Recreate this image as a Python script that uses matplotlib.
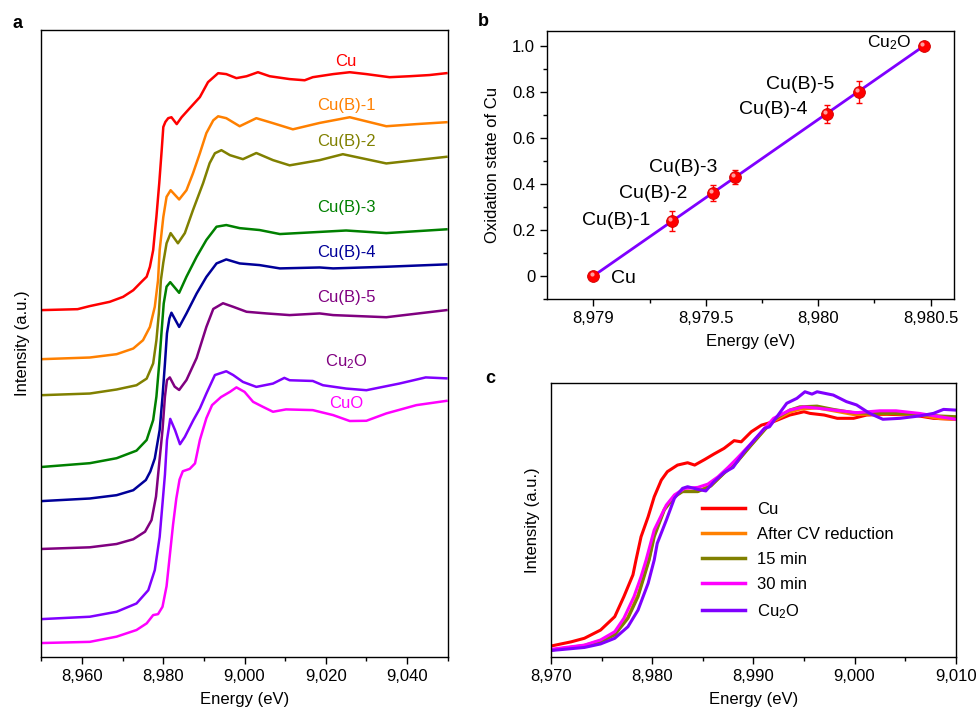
import numpy as np
import matplotlib
matplotlib.use('Agg')
import matplotlib.pyplot as plt
from matplotlib.ticker import MultipleLocator, FuncFormatter, NullLocator
from matplotlib import transforms

plt.rcParams['font.family'] = ['Liberation Sans', 'DejaVu Sans']
plt.rcParams['mathtext.default'] = 'regular'
plt.rcParams['font.size'] = 12

# ---------------- panel a: normalized XANES, stacked ----------------
cu_e = [8950, 8958.9, 8961.9, 8966.8, 8970.1, 8972.6, 8974.6, 8975.9, 8976.7, 8977.5, 8977.9,
        8978.3, 8979.0, 8979.6, 8980.0, 8980.5, 8981.2, 8982.0, 8983.3, 8984.5, 8986.5, 8989,
        8991, 8993.5, 8995.5, 8998, 9000.5, 9003.3, 9006.2, 9011.1, 9014.8, 9016.8, 9021.8,
        9025.9, 9030, 9035.7, 9040.6, 9045.5, 9049.7]
cu_mu = [0, 0.004, 0.017, 0.035, 0.056, 0.084, 0.119, 0.141, 0.183, 0.253, 0.325,
         0.394, 0.536, 0.675, 0.773, 0.794, 0.81, 0.814, 0.785, 0.814, 0.852, 0.899,
         0.962, 1.0, 0.996, 0.979, 0.987, 1.004, 0.987, 0.975, 0.970, 0.983, 0.996,
         1.004, 0.996, 0.983, 0.987, 0.992, 1.0]

b1_e = [8950, 8961.9, 8968.5, 8972.6, 8975.0, 8976.7, 8977.9, 8978.7, 8979.1, 8980.0, 8980.8,
        8981.8, 8983.9, 8985.7, 8987.3, 8989, 8990.6, 8992.3, 8993.5, 8995.5, 8998.8, 9002.9,
        9007, 9011.9, 9018.5, 9025.9, 9034.9, 9042.3, 9049.7]
b1_mu = [0, 0.007, 0.021, 0.045, 0.08, 0.136, 0.221, 0.333, 0.46, 0.60, 0.685,
         0.713, 0.674, 0.713, 0.784, 0.869, 0.954, 1.008, 1.025, 1.017, 0.983, 1.017,
         0.996, 0.97, 0.997, 1.021, 0.983, 0.992, 1.0]

b2_e = [8950, 8961.9, 8968.5, 8973.4, 8975.9, 8977.5, 8978.3, 8978.9, 8979.4, 8980.0, 8980.8,
        8981.8, 8983.6, 8985.3, 8987.3, 8989.8, 8991.4, 8992.7, 8994.3, 8996.4, 8999.6, 9002.9,
        9007, 9011.1, 9018.5, 9024.2, 9034.9, 9049.7]
b2_mu = [0, 0.007, 0.024, 0.042, 0.07, 0.134, 0.232, 0.345, 0.485, 0.56, 0.641,
         0.684, 0.641, 0.684, 0.781, 0.895, 0.979, 1.021, 1.034, 1.013, 0.996, 1.022,
         0.992, 0.97, 0.992, 1.017, 0.978, 1.006]

b3_e = [8950, 8961.9, 8968.5, 8973.4, 8975.9, 8977.5, 8978.3, 8979.0, 8979.6, 8980.1, 8980.8,
        8981.7, 8983.9, 8985.7, 8988.2, 8990.6, 8993.1, 8995.5, 8998.8, 9003.7, 9008.7,
        9025, 9034.9, 9049.7]
b3_mu = [0, 0.016, 0.037, 0.069, 0.114, 0.198, 0.297, 0.438, 0.578, 0.69, 0.761,
         0.78, 0.735, 0.803, 0.887, 0.958, 1.014, 1.021, 1.008, 1.0, 0.983,
         0.998, 0.987, 1.003]

b4_e = [8950, 8961.9, 8968.5, 8972.6, 8975.7, 8976.8, 8977.9, 8979.1, 8979.8, 8980.4, 8980.9,
        8981.5, 8982.0, 8983.9, 8985.7, 8988.2, 8990.6, 8993.1, 8995.5, 8998.8, 9003.7,
        9008.7, 9018.5, 9021.8, 9034.9, 9049.7]
b4_mu = [0, 0.011, 0.025, 0.046, 0.089, 0.125, 0.18, 0.3, 0.44, 0.581, 0.708,
         0.771, 0.795, 0.735, 0.792, 0.876, 0.946, 1.003, 1.02, 1.003, 0.996,
         0.982, 0.986, 0.982, 0.989, 0.999]

b5_e = [8950, 8961.9, 8968.5, 8972.6, 8975.5, 8977.1, 8978.2, 8978.7, 8979.8, 8980.4, 8980.9,
        8981.6, 8982.8, 8983.9, 8985.7, 8988.2, 8990.6, 8992.3, 8994.7, 8997.2, 9000.5,
        9005.4, 9011.1, 9018.5, 9021.8, 9034.9, 9049.7]
b5_mu = [0, 0.007, 0.021, 0.041, 0.073, 0.122, 0.221, 0.31, 0.502, 0.643, 0.713,
         0.724, 0.685, 0.671, 0.713, 0.806, 0.937, 1.013, 1.037, 1.022, 1.001,
         0.994, 0.987, 0.994, 0.987, 0.978, 1.008]

cu2o_e = [8950, 8961.9, 8968.5, 8973.4, 8976.3, 8977.9, 8979.1, 8979.8, 8980.4, 8980.9, 8981.7,
          8982.9, 8984.1, 8985.3, 8987.4, 8989, 8990.6, 8992.7, 8995.5, 8997.2, 8999.6, 9002.9,
          9007, 9009.8, 9011.1, 9016.8, 9019.3, 9025, 9030, 9038.1, 9044.6, 9049.7]
cu2o_mu = [0, 0.01, 0.031, 0.066, 0.122, 0.207, 0.347, 0.488, 0.61, 0.755, 0.845,
           0.797, 0.738, 0.769, 0.84, 0.889, 0.952, 1.03, 1.046, 1.03, 1.001, 0.98,
           0.994, 1.018, 1.008, 1.005, 0.987, 0.973, 0.966, 0.994, 1.02, 1.016]

cuo_e = [8950, 8961.9, 8968.5, 8973.4, 8975.9, 8977.5, 8978.7, 8979.8, 8980.8, 8981.6, 8982.4,
         8983.2, 8984.0, 8984.8, 8986.5, 8987.8, 8989.0, 8990.6, 8992.0, 8994.2, 8996.4,
         8998.0, 9000.0, 9002.1, 9004.5, 9007.0, 9010.2, 9016.8, 9021.8, 9025.9, 9030,
         9034.9, 9042.3, 9049.7]
cuo_mu = [0, 0.005, 0.027, 0.055, 0.083, 0.118, 0.122, 0.153, 0.24, 0.37, 0.50,
          0.61, 0.69, 0.725, 0.735, 0.758, 0.857, 0.949, 1.004, 1.038, 1.06,
          1.079, 1.06, 1.018, 0.997, 0.976, 0.986, 0.983, 0.962, 0.937, 0.938,
          0.969, 1.004, 1.022]

a_names = ['Cu', 'Cu(B)-1', 'Cu(B)-2', 'Cu(B)-3', 'Cu(B)-4', 'Cu(B)-5', 'Cu$_2$O', 'CuO']
a_offsets = [1.464, 1.257, 1.105, 0.802, 0.658, 0.456, 0.160, 0.059]
a_colors = ['#ff0000', '#ff8000', '#808000', '#008000', '#000099', '#800080', '#8000ff', '#ff00ff']
a_label_colors = ['#ff0000', '#ff8000', '#808000', '#008000', '#000099', '#800080', '#800080', '#ff00ff']
a_label_y = [2.513, 2.329, 2.177, 1.895, 1.709, 1.519, 1.245, 1.072]
a_curves = [(cu_e, cu_mu), (b1_e, b1_mu), (b2_e, b2_mu), (b3_e, b3_mu),
            (b4_e, b4_mu), (b5_e, b5_mu), (cu2o_e, cu2o_mu), (cuo_e, cuo_mu)]

# ---------------- panel b: oxidation state vs edge energy ----------------
b_names = ['Cu', 'Cu(B)-1', 'Cu(B)-2', 'Cu(B)-3', 'Cu(B)-4', 'Cu(B)-5', 'Cu$_2$O']
b_energy = np.array([8979.0, 8979.35, 8979.53, 8979.63, 8980.04, 8980.18, 8980.47])
b_ox = np.array([0.0, 0.24, 0.36, 0.43, 0.705, 0.80, 1.0])
b_err = np.array([0.0, 0.044, 0.036, 0.031, 0.038, 0.048, 0.0])

# ---------------- panel c: in situ spectra ----------------
c_cu_e = [8970, 8972, 8973.3, 8974.9, 8976.3, 8977.2, 8978.1, 8978.4, 8978.9, 8979.6, 8980.2,
          8980.9, 8981.5, 8982.5, 8983.5, 8984.2, 8985.2, 8986.1, 8987.1, 8988.1, 8988.8,
          8989.8, 8990.8, 8992.0, 8993.6, 8995.0, 8995.6, 8997.0, 8998.3, 8999.9, 9001.2,
          9003.2, 9005.8, 9007.8, 9010]
c_cu_v = [0.017, 0.035, 0.05, 0.085, 0.142, 0.227, 0.32, 0.383, 0.482, 0.567, 0.652,
          0.723, 0.759, 0.787, 0.797, 0.787, 0.811, 0.834, 0.858, 0.891, 0.886,
          0.929, 0.957, 0.972, 1.0, 1.014, 1.007, 1.0, 0.986, 0.986, 1.0,
          1.003, 1.0, 0.986, 0.982]

c_cv_e = [8970, 8973.3, 8974.9, 8976.3, 8977.6, 8978.6, 8979.2, 8979.7, 8980.2, 8981.2, 8982.2,
          8983.0, 8984.5, 8985.8, 8987.1, 8988.4, 8989.8, 8991.1, 8992.0, 8993.6, 8994.6,
          8996.3, 8997.9, 8999.9, 9001.9, 9003.8, 9006.4, 9008.4, 9010]
c_cv_v = [0.0, 0.02, 0.04, 0.07, 0.14, 0.235, 0.32, 0.39, 0.49, 0.60, 0.655,
          0.676, 0.676, 0.70, 0.754, 0.803, 0.874, 0.938, 0.975, 1.012, 1.025,
          1.03, 1.018, 1.002, 1.004, 1.006, 1.0, 0.985, 0.982]

c_15_e = [8970, 8973.3, 8974.9, 8976.3, 8977.6, 8978.6, 8979.2, 8979.7, 8980.2, 8981.2, 8982.2,
          8983.0, 8984.5, 8985.8, 8987.1, 8988.4, 8989.8, 8991.1, 8992.0, 8993.6, 8994.6,
          8996.3, 8997.9, 8999.9, 9001.9, 9003.8, 9006.4, 9008.4, 9010]
c_15_v = [0.0, 0.018, 0.036, 0.064, 0.135, 0.227, 0.312, 0.383, 0.482, 0.596, 0.652,
          0.674, 0.674, 0.698, 0.752, 0.801, 0.872, 0.936, 0.979, 1.021, 1.035,
          1.038, 1.024, 1.01, 1.007, 1.007, 1.003, 0.996, 0.993]

c_30_e = [8970, 8973.3, 8974.9, 8976.3, 8977.2, 8978.2, 8978.9, 8979.4, 8980.2, 8981.4, 8982.2,
          8983.2, 8984.5, 8985.5, 8986.5, 8987.5, 8988.4, 8989.8, 8991.1, 8992.0, 8993.6,
          8995.0, 8996.6, 8998.6, 9000.2, 9002.5, 9004.1, 9006.4, 9008.4, 9010]
c_30_v = [0.003, 0.021, 0.043, 0.078, 0.135, 0.227, 0.312, 0.383, 0.511, 0.617, 0.66,
          0.688, 0.692, 0.706, 0.737, 0.777, 0.816, 0.88, 0.943, 0.986, 1.021,
          1.035, 1.028, 1.018, 1.01, 1.018, 1.018, 1.007, 0.993, 0.982]

c_cu2o_e = [8970, 8973.3, 8974.9, 8976.3, 8977.6, 8978.6, 8979.6, 8980.2, 8980.5, 8981.4, 8982.2,
            8983.0, 8983.5, 8984.5, 8985.3, 8986.1, 8987.1, 8988.0, 8989.1, 8990.1, 8991.1,
            8991.6, 8993.3, 8994.3, 8995.1, 8995.8, 8996.3, 8997.9, 8999.2, 9000.2, 9001.5,
            9002.8, 9004.5, 9006.4, 9007.8, 9008.8, 9010]
c_cu2o_v = [-0.002, 0.011, 0.026, 0.05, 0.099, 0.17, 0.284, 0.383, 0.454, 0.553, 0.646,
            0.688, 0.695, 0.684, 0.677, 0.716, 0.755, 0.777, 0.844, 0.894, 0.943,
            0.95, 1.05, 1.071, 1.099, 1.089, 1.099, 1.085, 1.057, 1.043, 1.007,
            0.982, 0.986, 0.996, 1.007, 1.024, 1.021]

c_names = ['Cu', 'After CV reduction', '15 min', '30 min', 'Cu$_2$O']
c_colors = ['#ff0000', '#ff8000', '#808000', '#ff00ff', '#8000ff']
c_curves = [(c_cu_e, c_cu_v), (c_cv_e, c_cv_v), (c_15_e, c_15_v), (c_30_e, c_30_v),
            (c_cu2o_e, c_cu2o_v)]


def comma_int(v, pos):
    return f'{v:,.0f}'


def comma_half(v, pos):
    s = f'{v:,.1f}'
    return s[:-2] if s.endswith('.0') else s


fig = plt.figure(figsize=(9.78, 7.22), dpi=100)

# ---- a ----
ax_a = fig.add_axes([0.0424, 0.090, 0.4153, 0.8684])
for (e, mu), off, col in zip(a_curves, a_offsets, a_colors):
    ax_a.plot(e, np.array(mu) + off, color=col, lw=1.8)
for name, ly, col in zip(a_names, a_label_y, a_label_colors):
    ax_a.text(9025, ly, name, color=col, ha='center', va='center', fontsize=12)
ax_a.set_xlim(8950, 9050)
ax_a.set_ylim(0, 2.646)
ax_a.set_xticks([8960, 8980, 9000, 9020, 9040])
ax_a.xaxis.set_minor_locator(MultipleLocator(10))
ax_a.xaxis.set_major_formatter(FuncFormatter(comma_int))
ax_a.yaxis.set_major_locator(NullLocator())
ax_a.tick_params(axis='x', which='major', direction='out', length=5, width=1, labelsize=12)
ax_a.tick_params(axis='x', which='minor', direction='out', length=3, width=1)
ax_a.set_xlabel('Energy (eV)', fontsize=12, labelpad=6)
ax_a.set_ylabel('Intensity (a.u.)', fontsize=12, labelpad=8)

# ---- b ----
ax_b = fig.add_axes([0.5593, 0.5859, 0.4162, 0.3712])
ax_b.plot(b_energy[[0, -1]], b_ox[[0, -1]], color='#7f00ff', lw=2, zorder=1)
ax_b.errorbar(b_energy, b_ox, yerr=b_err, fmt='none', ecolor='#ff0000', elinewidth=1,
              capsize=2.5, capthick=1, zorder=2)
ax_b.plot(b_energy, b_ox, 'o', ms=8.5, mfc='#ff0000', mec='#d00000', mew=0.6, zorder=3)
hl = transforms.offset_copy(ax_b.transData, fig=fig, x=-1.3, y=1.3, units='points')
ax_b.plot(b_energy, b_ox, 'o', ms=3, mfc='#ffb0b0', mec='none', alpha=0.9, transform=hl, zorder=4)
b_offsets = [(22, -2), (-40, 0.5), (-43, 0), (-37, 7), (-39, 3), (-42, 5), (-25, 2)]
b_sizes = [14, 14, 14, 14, 14, 14, 12.5]
for name, x, y, (dx, dy), fs in zip(b_names, b_energy, b_ox, b_offsets, b_sizes):
    ax_b.annotate(name, (x, y), xytext=(dx, dy), textcoords='offset points',
                  ha='center', va='center', fontsize=fs)
ax_b.set_xlim(8978.794, 8980.604)
ax_b.set_ylim(-0.1, 1.065)
ax_b.xaxis.set_major_locator(MultipleLocator(0.5))
ax_b.xaxis.set_minor_locator(MultipleLocator(0.25))
ax_b.xaxis.set_major_formatter(FuncFormatter(comma_half))
ax_b.set_yticks([0, 0.2, 0.4, 0.6, 0.8, 1.0])
ax_b.yaxis.set_minor_locator(MultipleLocator(0.1))
ax_b.yaxis.set_major_formatter(FuncFormatter(lambda v, p: '0' if abs(v) < 1e-9 else f'{v:.1f}'))
ax_b.tick_params(which='major', direction='out', length=5, width=1, labelsize=12)
ax_b.tick_params(which='minor', direction='out', length=3, width=1)
ax_b.set_xlabel('Energy (eV)', fontsize=12, labelpad=6)
ax_b.set_ylabel('Oxidation state of Cu', fontsize=12, labelpad=9)

# ---- c ----
ax_c = fig.add_axes([0.5634, 0.0904, 0.4138, 0.3787])
for (e, v), col, name in zip(c_curves, c_colors, c_names):
    ax_c.plot(e, v, color=col, lw=2.2, label=name)
ax_c.set_xlim(8970, 9010)
ax_c.set_ylim(-0.0285, 1.135)
ax_c.xaxis.set_major_locator(MultipleLocator(10))
ax_c.xaxis.set_minor_locator(MultipleLocator(5))
ax_c.xaxis.set_major_formatter(FuncFormatter(comma_int))
ax_c.yaxis.set_major_locator(NullLocator())
ax_c.tick_params(axis='x', which='major', direction='out', length=5, width=1, labelsize=12)
ax_c.tick_params(axis='x', which='minor', direction='out', length=3, width=1)
ax_c.set_xlabel('Energy (eV)', fontsize=12, labelpad=6)
ax_c.set_ylabel('Intensity (a.u.)', fontsize=12, labelpad=8)
leg = ax_c.legend(loc='upper left', bbox_to_anchor=(0.356, 0.591), frameon=False,
                  fontsize=12, handlelength=2.6, handletextpad=0.7, labelspacing=0.6,
                  borderaxespad=0)
for line in leg.get_lines():
    line.set_linewidth(2.5)

for ax in (ax_a, ax_b, ax_c):
    for sp in ax.spines.values():
        sp.set_linewidth(1)

fig.text(0.0174, 0.968, 'a', fontsize=13, fontweight='bold', va='center', ha='center')
fig.text(0.494, 0.970, 'b', fontsize=13, fontweight='bold', va='center', ha='center')
fig.text(0.501, 0.476, 'c', fontsize=13, fontweight='bold', va='center', ha='center')

fig.savefig('out.png', dpi=100)
